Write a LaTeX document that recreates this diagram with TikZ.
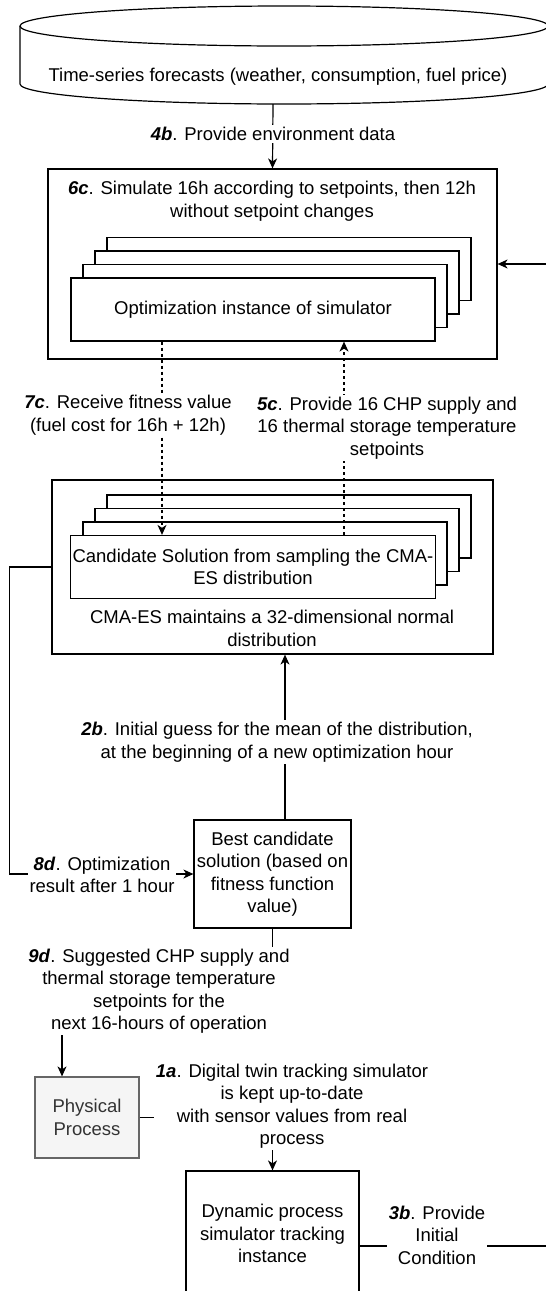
\documentclass[tikz,border=0pt]{standalone}
\usepackage{fontspec}
\setmainfont{Liberation Sans}
\usetikzlibrary{arrows.meta}
\definecolor{physfill}{HTML}{F5F5F5}
\definecolor{physdraw}{HTML}{666666}
\definecolor{phystext}{HTML}{333333}
\newcommand{\stepid}[1]{\textbf{\textit{#1}}}

\begin{document}
\begin{tikzpicture}[x=1pt,y=-1pt]
	\tikzset{every node/.style={font=\fontsize{18.5}{22.5}\selectfont,align=center,inner sep=2pt}}
	\tikzset{box/.style={draw,line width=1.2pt,fill=white}}
	\tikzset{layer/.style={box,minimum width=364pt,minimum height=63pt}}
	\tikzset{lbl/.style={fill=white}}
	\tikzset{ar/.style={line width=1.2pt,-{Stealth[length=10pt,width=9pt,inset=3pt]}}}
	\tikzset{dashar/.style={ar,dash pattern=on 3pt off 3pt}}
	\useasboundingbox (0,0) rectangle (546,1291);
	\clip (0,0) rectangle (546,1291);
	% forecast store
	\draw[line width=1.2pt] (284,26) ellipse [x radius=264,y radius=20];
	\draw[line width=1.2pt] (20,26) -- (20,84) .. controls (20,95) and (138,104) .. (284,104)
		.. controls (430,104) and (548,95) .. (548,84) -- (548,26);
	\coordinate (cylb) at (273,104);
	\node (tsf) at (278,77) {Time-series forecasts (weather, consumption, fuel price)};
	% simulator instances
	\node[box,minimum width=449pt,minimum height=190pt] (sim) at (272.5,264) {};
	\node (simtxt) at (272,201) {\stepid{6c}. Simulate 16h according to setpoints, then 12h\\without setpoint changes};
	\foreach \k in {3,2,1} \node[layer] (optl\k) at (253+12*\k,309.5-13.5*\k) {};
	\node[layer] (opt) at (253,309.5) {Optimization instance of simulator};
	% CMA-ES
	\node[box,minimum width=441pt,minimum height=174pt] (cma) at (272.5,567) {};
	\node (cmatxt) at (272,628.5) {CMA-ES maintains a 32-dimensional normal\\distribution};
	\foreach \k in {3,2,1} \node[layer] (candl\k) at (253+12*\k,567-13.5*\k) {};
	\node[layer] (cand) at (253,567) {Candidate Solution from sampling the CMA-\\ES distribution};
	\node[box,minimum width=157pt,minimum height=108pt] (best) at (272.5,874) {Best candidate\\solution (based on\\fitness function\\value)};
	\node[box,draw=physdraw,fill=physfill,text=phystext,minimum width=104pt,minimum height=81pt] (phys) at (87,1117.5) {Physical\\Process};
	\node[box,minimum width=173pt,minimum height=125pt] (dyn) at (272.5,1233.5) {Dynamic process\\simulator tracking\\instance};
	% connectors
	\draw[ar] (cylb) -- (sim.north);
	\draw[ar] ([yshift=-12.5pt]dyn.east) -- ++(205,0) |- (sim.east);
	\draw[dashar] ([xshift=-91pt]opt.south) -- ([xshift=-91pt]cand.north);
	\draw[dashar] ([xshift=91pt]cand.north) -- ([xshift=91pt]opt.south);
	\draw[ar] (cma.west) -- ++(-42,0) |- (best.west);
	\draw[ar] ([xshift=12.5pt]best.north) -- ([xshift=12.5pt]cma.south);
	\draw[ar] (best.south) -- ++(0,60) -| ([xshift=-25pt]phys.north);
	\draw[ar] (phys.east) -| (dyn.north);
	% edge labels
	\node[lbl] (l4b) at (273,134) {\stepid{4b}. Provide environment data};
	\node[lbl] (l7c) at (128,415) {\stepid{7c}. Receive fitness value\\(fuel cost for 16h + 12h)};
	\node[lbl] (l5c) at (387,428) {\stepid{5c}. Provide 16 CHP supply and\\16 thermal storage temperature\\setpoints};
	\node[lbl] (l2b) at (277,742) {\stepid{2b}. Initial guess for the mean of the distribution,\\at the beginning of a new optimization hour};
	\node[lbl] (l8d) at (102,875) {\stepid{8d}. Optimization\\result after 1 hour};
	\node[lbl] (l9d) at (159,991) {\stepid{9d}. Suggested CHP supply and\\thermal storage temperature\\setpoints for the\\next 16-hours of operation};
	\node[lbl] (l1a) at (292,1106) {\stepid{1a}. Digital twin tracking simulator\\is kept up-to-date\\with sensor values from real\\process};
	\node[lbl] (l3b) at (437,1235) {\stepid{3b}. Provide\\Initial\\Condition};
\end{tikzpicture}
\end{document}
